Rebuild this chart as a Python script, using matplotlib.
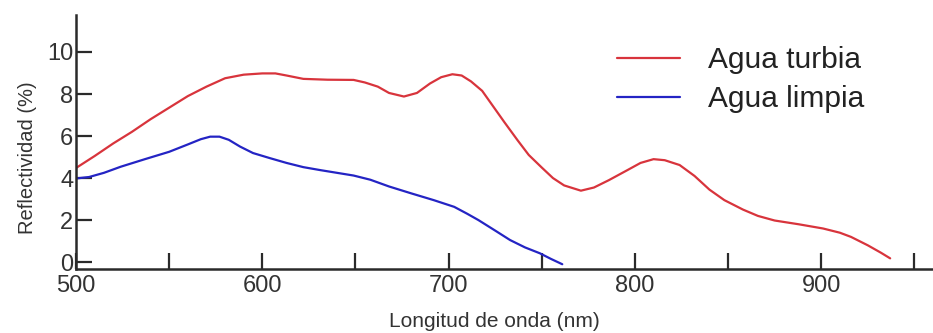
import matplotlib
matplotlib.use('Agg')
import matplotlib.pyplot as plt

plt.rcParams['font.family'] = ['Liberation Sans', 'DejaVu Sans']

# Agua turbia (red curve)
turbia_nm = [500, 510, 520, 530, 540, 550, 560, 570, 580, 590, 600, 607, 613, 622, 635,
             649, 655, 662, 668, 676, 683, 690, 696, 702, 707, 712, 718, 724, 730, 737,
             743, 750, 756, 762, 771, 778, 786, 796, 803, 810, 816, 824, 832, 840, 848,
             858, 866, 875, 888, 901, 910, 916, 925, 932, 937]
turbia_refl = [4.48, 5.05, 5.65, 6.2, 6.8, 7.35, 7.9, 8.35, 8.75, 8.92, 8.98, 8.98, 8.88, 8.72, 8.68,
               8.67, 8.55, 8.35, 8.05, 7.88, 8.05, 8.5, 8.8, 8.94, 8.88, 8.6, 8.15, 7.4, 6.65, 5.8,
               5.1, 4.5, 4.0, 3.65, 3.4, 3.55, 3.9, 4.38, 4.72, 4.9, 4.85, 4.62, 4.1, 3.45, 2.95,
               2.5, 2.2, 1.98, 1.8, 1.6, 1.4, 1.2, 0.8, 0.45, 0.18]

# Agua limpia (blue curve)
limpia_nm = [500, 507, 515, 524, 537, 550, 560, 567, 572, 577, 582, 588, 595, 604, 613,
             622, 631, 640, 649, 658, 668, 680, 692, 703, 710, 716, 725, 733, 741, 749,
             755, 761]
limpia_refl = [3.98, 4.05, 4.25, 4.54, 4.9, 5.25, 5.6, 5.85, 5.97, 5.97, 5.82, 5.5, 5.19, 4.95, 4.72,
               4.52, 4.38, 4.25, 4.12, 3.92, 3.6, 3.27, 2.95, 2.63, 2.3, 2.0, 1.5, 1.05, 0.7, 0.42,
               0.15, -0.1]

x_ticks = list(range(500, 951, 50))
x_labels = [str(t) if t % 100 == 0 else '' for t in x_ticks]
y_ticks = [0, 2, 4, 6, 8, 10]

axis_col = '#2a2a2a'
text_col = '#333333'

fig = plt.figure(figsize=(9.33, 3.33), dpi=100)
ax = fig.add_axes([0.0815, 0.192, 0.9185, 0.763])

ax.plot(turbia_nm, turbia_refl, color='#d8343c', lw=1.6, label='Agua turbia',
        solid_joinstyle='round', solid_capstyle='round')
ax.plot(limpia_nm, limpia_refl, color='#2424c4', lw=1.6, label='Agua limpia',
        solid_joinstyle='round', solid_capstyle='round')

ax.set_xlim(500, 960)
ax.set_ylim(-0.33, 11.76)
ax.set_xticks(x_ticks)
ax.set_xticklabels(x_labels)
ax.set_yticks(y_ticks)

for s in ['top', 'right']:
    ax.spines[s].set_visible(False)
for s in ['left', 'bottom']:
    ax.spines[s].set_linewidth(1.8)
    ax.spines[s].set_color(axis_col)

ax.tick_params(direction='in', length=11.5, width=1.6, color=axis_col,
               labelsize=17, labelcolor=text_col)
ax.tick_params(axis='x', pad=4)
ax.tick_params(axis='y', pad=2)

ax.set_xlabel('Longitud de onda (nm)', fontsize=15, color=text_col)
ax.xaxis.set_label_coords(0.488, -0.17)
ax.set_ylabel('Reflectividad (%)', fontsize=14.5, color=text_col)
ax.yaxis.set_label_coords(-0.046, 0.44)

leg = ax.legend(loc='upper left', bbox_to_anchor=(0.6, 0.982), frameon=False,
                fontsize=21.5, handlelength=2.1, handletextpad=0.95, labelspacing=0.36)
for t in leg.get_texts():
    t.set_color('#222222')

fig.savefig('out.png', dpi=100)
